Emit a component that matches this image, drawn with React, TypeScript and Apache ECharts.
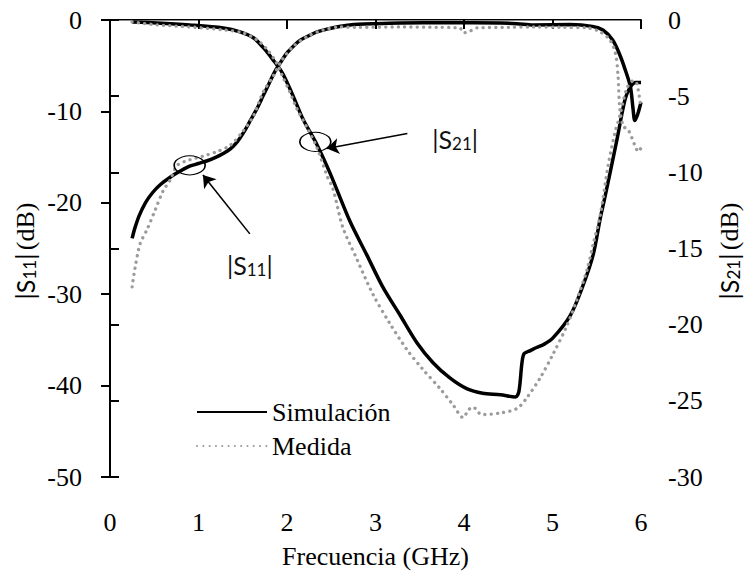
import React, { useEffect, useRef } from 'react';
import * as echarts from 'echarts';

const SERIF = "'Liberation Serif', 'Times New Roman', serif";
const SANS = "'Lato', 'Open Sans', sans-serif";

// Frequency axis ticks (GHz)
const freqTicks = [0, 1, 2, 3, 4, 5, 6];

// Simulated |S11| (dB, left axis)
const simS11Freq = [0.25, 0.28, 0.33, 0.4, 0.48, 0.57, 0.68, 0.8, 0.9, 1.0, 1.1, 1.2, 1.28, 1.36, 1.44, 1.51, 1.58, 1.66, 1.73, 1.8, 1.86, 1.93, 2.0, 2.08, 2.15, 2.25, 2.34, 2.45, 2.56, 2.71, 3.0, 3.28, 3.8, 4.41, 4.6, 4.78, 5.2, 5.45, 5.57, 5.68, 5.76, 5.82, 5.88, 5.91, 5.93, 5.96, 6.0];
const simS11Db = [-23.9, -22.8, -21.4, -20.0, -18.9, -18.0, -17.2, -16.5, -16.0, -15.7, -15.4, -15.0, -14.6, -14.1, -13.3, -12.3, -11.1, -9.7, -8.3, -6.9, -5.7, -4.6, -3.6, -2.8, -2.2, -1.7, -1.3, -1.0, -0.76, -0.54, -0.4, -0.32, -0.3, -0.32, -0.4, -0.54, -0.5, -0.7, -1.1, -2.2, -3.8, -5.4, -7.3, -9.7, -11.0, -10.4, -9.0];

// Simulated |S21| (dB, right axis)
const simS21Freq = [0.25, 0.53, 0.9, 1.28, 1.47, 1.62, 1.73, 1.84, 1.95, 2.07, 2.18, 2.34, 2.49, 2.71, 2.9, 3.08, 3.28, 3.47, 3.65, 3.84, 4.03, 4.21, 4.41, 4.58, 4.62, 4.655, 4.68, 4.75, 4.82, 4.9, 5.0, 5.2, 5.34, 5.46, 5.54, 5.59, 5.73, 5.82, 5.88, 5.94, 6.0];
const simS21Db = [-0.13, -0.19, -0.32, -0.52, -0.78, -1.17, -1.8, -2.6, -3.5, -5.0, -6.5, -8.2, -10.1, -13.2, -15.4, -17.5, -19.4, -21.2, -22.5, -23.5, -24.2, -24.5, -24.6, -24.75, -24.4, -22.5, -21.9, -21.7, -21.5, -21.3, -20.9, -19.4, -17.5, -15.4, -13.0, -11.7, -7.8, -5.2, -4.4, -4.1, -4.1];

// Measured |S11| (dB, left axis)
const medS11Freq = [0.25, 0.28, 0.34, 0.42, 0.51, 0.6, 0.68, 0.76, 0.9, 1.05, 1.21, 1.36, 1.5, 1.62, 1.73, 1.84, 1.95, 2.07, 2.23, 2.41, 2.6, 2.8, 3.28, 3.7, 3.95, 4.0, 4.05, 4.15, 4.5, 4.78, 5.1, 5.39, 5.54, 5.65, 5.71, 5.74, 5.76, 5.8, 5.86, 5.93, 5.97, 6.0];
const medS11Db = [-29.2, -27.3, -24.5, -22.9, -20.8, -18.7, -17.5, -15.9, -15.3, -14.9, -14.4, -13.7, -12.2, -10.5, -7.9, -6.2, -4.3, -2.9, -1.8, -1.1, -0.76, -0.8, -0.76, -0.8, -0.86, -1.4, -1.3, -0.86, -0.8, -0.76, -0.8, -0.86, -1.3, -2.2, -3.6, -6.0, -9.7, -11.6, -12.1, -13.7, -14.4, -14.0];

// Measured |S21| (dB, right axis)
const medS21Freq = [0.25, 0.53, 0.9, 1.28, 1.5, 1.66, 1.77, 1.88, 1.95, 2.03, 2.11, 2.23, 2.34, 2.45, 2.52, 2.63, 2.79, 2.97, 3.16, 3.35, 3.53, 3.73, 3.88, 3.99, 4.05, 4.1, 4.2, 4.41, 4.6, 4.71, 4.86, 5.0, 5.16, 5.28, 5.39, 5.46, 5.54, 5.63, 5.71, 5.76, 5.84, 5.91, 5.95, 6.0];
const medS21Db = [-0.13, -0.32, -0.45, -0.65, -0.84, -1.3, -1.9, -2.8, -3.7, -4.7, -5.8, -7.1, -8.4, -10.2, -11.1, -13.6, -15.7, -18.0, -19.9, -21.6, -22.9, -24.2, -25.3, -26.1, -25.6, -25.4, -25.9, -25.8, -25.5, -24.8, -23.5, -22.0, -20.1, -18.3, -16.4, -14.7, -12.8, -9.5, -7.3, -6.3, -4.5, -4.0, -4.1, -5.8];

// Callout positions (data coordinates)
const s11Ellipse = [0.9, -15.9];
const s11ArrowFrom = [1.58, -23.4];
const s11ArrowTo = [1.05, -16.95];
const s11LabelAt = [1.58, -26.8];
const s21Ellipse = [2.32, -8.0];
const s21ArrowFrom = [3.36, -7.45];
const s21ArrowTo = [2.45, -8.43];
const s21LabelAt = [3.9, -7.78];

const zip = (xs: number[], ys: number[]) => xs.map((x, i) => [x, ys[i]]);

const subRich = {
  s: { fontFamily: SANS, fontSize: 25, color: '#111' },
  sub: { fontFamily: SANS, fontSize: 17, color: '#111', padding: [9, 0, 0, 0] },
  d: { fontFamily: SERIF, fontSize: 26, color: '#111' },
};

const calloutLabel = (sub: string) => ({
  show: true,
  position: 'inside',
  formatter: `{s||S}{sub|${sub}}{s||}`,
  rich: subRich,
});

export default function App() {
  const ref = useRef<HTMLDivElement>(null);

  useEffect(() => {
    if (!ref.current) return;
    const chart = echarts.init(ref.current, undefined, { renderer: 'svg' });

    const axisLine = { show: true, lineStyle: { color: '#000', width: 2 } };
    const axisTick = { show: true, inside: false, length: 9, lineStyle: { color: '#000', width: 2 } };
    const tickFont = { fontFamily: SERIF, fontSize: 26, color: '#000' };

    const solid = { color: '#000', width: 3.5 };
    const dotted = { color: '#9b9b9b', width: 3.3, type: [0.1, 6.2], cap: 'round' };

    chart.setOption({
      animation: false,
      backgroundColor: '#fff',
      grid: { left: 110, right: 105, top: 20, bottom: 91 },
      legend: {
        data: ['Simulación', 'Medida'],
        orient: 'vertical',
        left: 191,
        top: 394,
        itemWidth: 70,
        itemHeight: 14,
        itemGap: 8,
        itemStyle: { color: 'rgba(0,0,0,0)', borderColor: 'rgba(0,0,0,0)', borderWidth: 0, opacity: 0 },
        textStyle: { fontFamily: SERIF, fontSize: 26, color: '#000' },
      },
      xAxis: [
        {
          type: 'value',
          min: freqTicks[0],
          max: freqTicks[freqTicks.length - 1],
          interval: 1,
          position: 'bottom',
          axisLine,
          axisTick,
          splitLine: { show: false },
          axisLabel: { ...tickFont, margin: 32 },
          name: 'Frecuencia (GHz)',
          nameLocation: 'middle',
          nameGap: 66,
          nameTextStyle: { fontFamily: SERIF, fontSize: 26, color: '#000' },
        },
        {
          type: 'value',
          min: 0,
          max: 6,
          position: 'top',
          axisLine: { show: true, lineStyle: { color: '#8a8a8a', width: 1.2 } },
          axisTick: { show: false },
          axisLabel: { show: false },
          splitLine: { show: false },
        },
      ],
      yAxis: [
        {
          type: 'value',
          min: -50,
          max: 0,
          interval: 10,
          position: 'left',
          axisLine,
          axisTick,
          splitLine: { show: false },
          axisLabel: { ...tickFont, margin: 28 },
        },
        {
          type: 'value',
          min: -30,
          max: 0,
          interval: 5,
          position: 'right',
          axisLine,
          axisTick,
          splitLine: { show: false },
          axisLabel: { ...tickFont, margin: 27 },
        },
      ],
      graphic: [
        {
          type: 'text',
          x: 25,
          y: 251,
          rotation: Math.PI / 2,
          style: {
            text: '{s||S}{sub|11}{s||} {d|(dB)}',
            rich: subRich,
            align: 'center',
            verticalAlign: 'middle',
          },
        },
        {
          type: 'text',
          x: 729,
          y: 251,
          rotation: Math.PI / 2,
          style: {
            text: '{s||S}{sub|21}{s||} {d|(dB)}',
            rich: subRich,
            align: 'center',
            verticalAlign: 'middle',
          },
        },
      ],
      series: [
        {
          name: 'Simulación',
          type: 'line',
          xAxisIndex: 0,
          yAxisIndex: 0,
          data: zip(simS11Freq, simS11Db),
          symbol: 'none',
          smooth: 0.3,
          lineStyle: solid,
          itemStyle: { color: '#000' },
          z: 3,
          markLine: {
            silent: true,
            symbol: ['none', 'arrow'],
            symbolSize: 12,
            label: { show: false },
            lineStyle: { color: '#000', width: 1.6, type: 'solid' },
            data: [[{ coord: s11ArrowFrom }, { coord: s11ArrowTo }]],
          },
          markPoint: {
            silent: true,
            data: [
              {
                coord: s11Ellipse,
                symbol: 'circle',
                symbolSize: [31, 19],
                itemStyle: { color: 'rgba(0,0,0,0)', borderColor: '#000', borderWidth: 1.3 },
                label: { show: false },
              },
              {
                coord: s11LabelAt,
                symbol: 'rect',
                symbolSize: [1, 1],
                itemStyle: { color: 'rgba(0,0,0,0)' },
                label: calloutLabel('11'),
              },
            ],
          },
        },
        {
          name: 'Simulación',
          type: 'line',
          xAxisIndex: 0,
          yAxisIndex: 1,
          data: zip(simS21Freq, simS21Db),
          symbol: 'none',
          smooth: 0.3,
          lineStyle: solid,
          itemStyle: { color: '#000' },
          z: 3,
          markLine: {
            silent: true,
            symbol: ['none', 'arrow'],
            symbolSize: 12,
            label: { show: false },
            lineStyle: { color: '#000', width: 1.6, type: 'solid' },
            data: [[{ coord: s21ArrowFrom }, { coord: s21ArrowTo }]],
          },
          markPoint: {
            silent: true,
            data: [
              {
                coord: s21Ellipse,
                symbol: 'circle',
                symbolSize: [31, 19],
                itemStyle: { color: 'rgba(0,0,0,0)', borderColor: '#000', borderWidth: 1.3 },
                label: { show: false },
              },
              {
                coord: s21LabelAt,
                symbol: 'rect',
                symbolSize: [1, 1],
                itemStyle: { color: 'rgba(0,0,0,0)' },
                label: calloutLabel('21'),
              },
            ],
          },
        },
        {
          name: 'Medida',
          type: 'line',
          xAxisIndex: 0,
          yAxisIndex: 0,
          data: zip(medS11Freq, medS11Db),
          symbol: 'none',
          smooth: 0.3,
          lineStyle: dotted,
          itemStyle: { color: '#9b9b9b' },
          z: 4,
        },
        {
          name: 'Medida',
          type: 'line',
          xAxisIndex: 0,
          yAxisIndex: 1,
          data: zip(medS21Freq, medS21Db),
          symbol: 'none',
          smooth: 0.3,
          lineStyle: dotted,
          itemStyle: { color: '#9b9b9b' },
          z: 4,
        },
      ],
    });

    return () => chart.dispose();
  }, []);

  return (
    <div
      ref={ref}
      style={{ position: 'fixed', left: 0, top: 0, width: 746, height: 574, background: '#fff' }}
    />
  );
}
